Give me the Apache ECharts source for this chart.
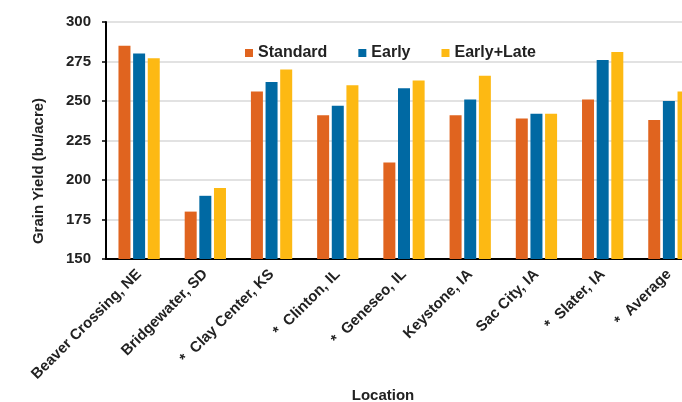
<!DOCTYPE html>
<html>
<head>
<meta charset="utf-8">
<script src="https://cdn.jsdelivr.net/npm/echarts@6/dist/echarts.min.js"></script>
<style>html,body{margin:0;padding:0;background:#fff;}#c{width:682px;height:402px;}</style>
</head>
<body>
<div id="c"></div>
<script>
var categories = ["Beaver Crossing, NE", "Bridgewater, SD", "*  Clay Center, KS", "*  Clinton, IL", "*  Geneseo, IL", "Keystone, IA", "Sac City, IA", "*  Slater, IA", "*  Average"];
var standard = [285, 180, 256, 241, 211, 241, 239, 251, 238];
var early = [280, 190, 262, 247, 258, 251, 242, 276, 250];
var earlyLate = [277, 195, 270, 260, 263, 266, 242, 281, 256];
var yTicks = { min: 150, max: 300, interval: 25 };

var font = "Arial, 'Liberation Sans', sans-serif";
var txt = "#222";
var chart = echarts.init(document.getElementById('c'), null, { renderer: 'canvas' });
function bar(name, data, color) {
  return { name: name, type: 'bar', data: data, barWidth: 12, barGap: '22%',
    itemStyle: { color: color }, animation: false };
}
chart.setOption({
  animation: false,
  backgroundColor: '#fff',
  grid: { left: 106, top: 22, right: -20, bottom: 143, containLabel: false, outerBoundsMode: 'none' },
  legend: {
    left: 240, top: 40, icon: 'rect', itemWidth: 8, itemHeight: 8, itemGap: 31,
    textStyle: { fontFamily: font, fontWeight: 'bold', fontSize: 16, color: txt },
    data: ['Standard', 'Early', 'Early+Late']
  },
  xAxis: {
    type: 'category', data: categories, boundaryGap: true,
    axisLine: { lineStyle: { color: '#000', width: 2 } },
    axisTick: { alignWithLabel: true, length: 4, lineStyle: { color: '#000', width: 2 } },
    axisLabel: { interval: 0, rotate: 45, margin: 13, fontFamily: font, fontWeight: 'bold', fontSize: 15, color: txt }
  },
  yAxis: {
    type: 'value', min: yTicks.min, max: yTicks.max, interval: yTicks.interval,
    axisLine: { show: true, lineStyle: { color: '#000', width: 2 } },
    axisTick: { show: true, length: 4, lineStyle: { color: '#000', width: 1.5 } },
    axisLabel: { margin: 15, fontFamily: font, fontWeight: 'bold', fontSize: 15, color: txt },
    splitLine: { lineStyle: { color: '#d9d9d9', width: 1.5 } }
  },
  graphic: [
    { type: 'text', x: 39, y: 171, rotation: Math.PI / 2,
      style: { text: 'Grain Yield (bu/acre)', font: 'bold 15px ' + font, fill: txt, textAlign: 'center', textVerticalAlign: 'middle' } },
    { type: 'text', x: 383, y: 396,
      style: { text: 'Location', font: 'bold 15px ' + font, fill: txt, textAlign: 'center', textVerticalAlign: 'middle' } }
  ],
  series: [
    bar('Standard', standard, '#E0641F'),
    bar('Early', early, '#0069A3'),
    bar('Early+Late', earlyLate, '#FDB913')
  ]
});
</script>
</body>
</html>
